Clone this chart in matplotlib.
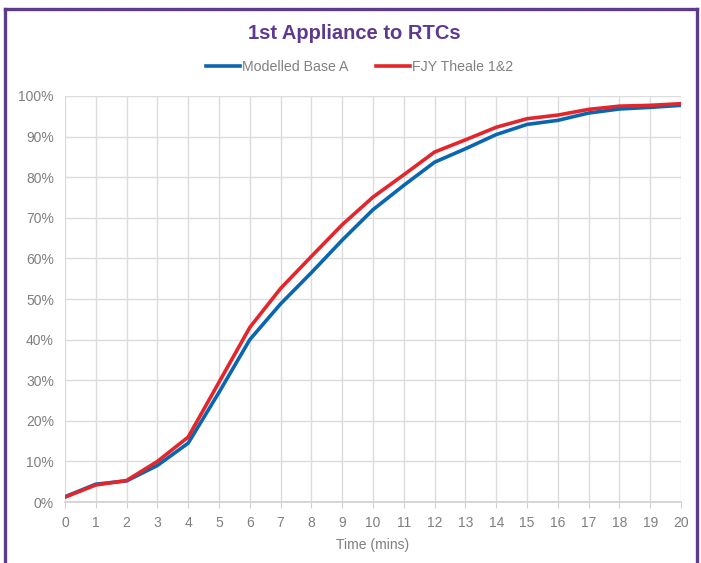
import numpy as np
import matplotlib.pyplot as plt
from matplotlib.lines import Line2D
from matplotlib.ticker import PercentFormatter

# Data (percent of incidents reached by time)
minutes = list(range(0, 21))
modelled_base_a = [1.3, 4.4, 5.2, 9.0, 14.5, 27.0, 40.0, 48.8, 56.5, 64.5, 72.0,
                   78.0, 83.7, 87.0, 90.5, 93.0, 94.0, 95.8, 96.8, 97.2, 97.7]
fjy_theale = [1.2, 4.2, 5.3, 10.0, 16.0, 29.5, 43.0, 52.6, 60.5, 68.3, 75.1,
              80.6, 86.2, 89.2, 92.3, 94.4, 95.3, 96.7, 97.5, 97.7, 98.1]

purple = "#5E3A8F"
grey_txt = "#7f7f7f"
grid_c = "#dcdcdc"

plt.rcParams["font.family"] = ["Liberation Sans", "DejaVu Sans"]

fig = plt.figure(figsize=(7.01, 5.63), dpi=100)
ax = fig.add_axes([0.0927, 0.1083, 0.8788, 0.7212])

ax.plot(minutes, modelled_base_a, color="#0A66B0", lw=2.6, label="Modelled Base A",
        solid_joinstyle="round")
ax.plot(minutes, fjy_theale, color="#E3262B", lw=2.6, label="FJY Theale 1&2",
        solid_joinstyle="round")

ax.set_xlim(0, 20)
ax.set_ylim(0, 100)
ax.set_xticks(minutes)
ax.set_yticks(range(0, 101, 10))
ax.yaxis.set_major_formatter(PercentFormatter(decimals=0))
ax.grid(True, color=grid_c, lw=1)
ax.set_axisbelow(True)
for s in ["top", "right", "left"]:
    ax.spines[s].set_visible(False)
ax.spines["bottom"].set_color("#d0d0d0")
ax.spines["bottom"].set_linewidth(1.2)
ax.tick_params(axis="x", colors=grey_txt, labelsize=10, length=4, color="#d0d0d0", pad=6)
ax.tick_params(axis="y", colors=grey_txt, labelsize=10, length=0, pad=8)
ax.set_xlabel("Time (mins)", color=grey_txt, fontsize=10, labelpad=6)

fig.text(0.506, 0.941, "1st Appliance to RTCs", ha="center", va="center",
         color=purple, fontsize=14.5, fontweight="bold")
fig.legend(loc="center", bbox_to_anchor=(0.513, 0.881), ncol=2, frameon=False,
           fontsize=10.2, labelcolor="#808080", handlelength=2.4, handletextpad=0.1,
           columnspacing=2.0)

# purple frame on left, top and right edges
fig.add_artist(Line2D([0.0075, 0.0075], [0.0, 0.984], color=purple, lw=2.4,
                      transform=fig.transFigure, solid_capstyle="projecting"))
fig.add_artist(Line2D([0.0075, 0.9945], [0.984, 0.984], color=purple, lw=2.4,
                      transform=fig.transFigure, solid_capstyle="projecting"))
fig.add_artist(Line2D([0.9945, 0.9945], [0.0, 0.984], color=purple, lw=2.4,
                      transform=fig.transFigure, solid_capstyle="projecting"))

fig.savefig("out.png", dpi=100)
